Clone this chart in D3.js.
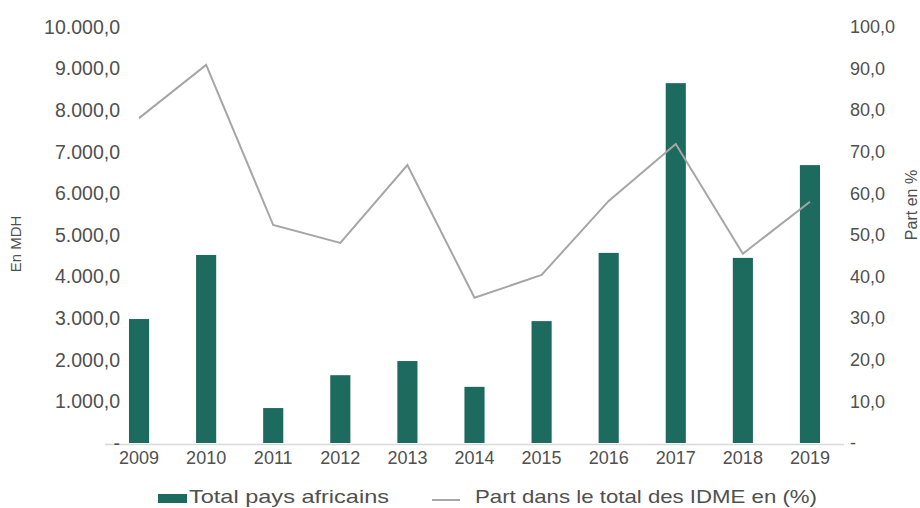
<!DOCTYPE html>
<html><head><meta charset="utf-8">
<script src="https://cdn.jsdelivr.net/npm/d3@7"></script>
<style>body{margin:0;background:#fff}svg{display:block}</style>
</head><body>
<svg id="c" width="920" height="508"></svg>
<script>
const years = ["2009","2010","2011","2012","2013","2014","2015","2016","2017","2018","2019"];
const totalAfrique = [2980, 4520, 840, 1630, 1970, 1350, 2930, 4570, 8650, 4450, 6680];
const partIDME = [78.1, 90.9, 52.4, 48.1, 66.8, 34.9, 40.4, 58.2, 71.9, 45.5, 58.0];
const leftTicks = [0,1000,2000,3000,4000,5000,6000,7000,8000,9000,10000];
const rightTicks = [0,10,20,30,40,50,60,70,80,90,100];
const seriesNames = ["Total pays africains", "Part dans le total des IDME en (%)"];
const axisTitles = ["En MDH", "Part en %"];

const svg = d3.select("#c");
const font = "'Liberation Sans', Arial, sans-serif";
const txt = "#505050";
const barColor = "#1d6a5e";
const lineColor = "#a6a6a6";

const x = d3.scaleBand().domain(years).range([105.5, 843.5]).paddingInner(0.7).paddingOuter(0.35);
const yL = d3.scaleLinear().domain([0, 10000]).range([443, 27]);
const yR = d3.scaleLinear().domain([0, 100]).range([443, 27]);

const loc = d3.formatLocale({decimal: ",", thousands: ".", grouping: [3], currency: ["", ""]});
const fmt = v => v === 0 ? "-" : loc.format(",.1f")(v);

// bars
svg.append("g").selectAll("rect").data(years).join("rect")
  .attr("x", d => x(d)).attr("width", x.bandwidth())
  .attr("y", (d,i) => yL(totalAfrique[i]))
  .attr("height", (d,i) => yL(0) - yL(totalAfrique[i]))
  .attr("fill", barColor);

// baseline
svg.append("line").attr("x1", 105).attr("x2", 844).attr("y1", 444.5).attr("y2", 444.5)
  .attr("stroke", "#d9d9d9").attr("stroke-width", 1.5);

// line
const line = d3.line().x((d,i) => x(years[i]) + x.bandwidth()/2).y(d => yR(d));
svg.append("path").datum(partIDME).attr("d", line)
  .attr("fill", "none").attr("stroke", lineColor).attr("stroke-width", 2);

// left axis
const gL = svg.append("g").attr("transform", "translate(120,0)")
  .call(d3.axisLeft(yL).tickValues(leftTicks).tickFormat(fmt).tickSize(0).tickPadding(0));
gL.select(".domain").remove();
gL.selectAll("text").attr("font-family", font).attr("font-size", 19.5).attr("fill", txt);

// right axis
const gR = svg.append("g").attr("transform", "translate(850,0)")
  .call(d3.axisRight(yR).tickValues(rightTicks).tickFormat(fmt).tickSize(0).tickPadding(0));
gR.select(".domain").remove();
gR.selectAll("text").attr("font-family", font).attr("font-size", 18).attr("fill", txt);

// x axis
const gX = svg.append("g").attr("transform", "translate(0,451)")
  .call(d3.axisBottom(x).tickSize(0).tickPadding(0));
gX.select(".domain").remove();
gX.selectAll("text").attr("font-family", font).attr("font-size", 18).attr("fill", txt);

// axis titles
svg.append("text").attr("transform", "translate(21,244) rotate(-90)")
  .attr("text-anchor", "middle").attr("font-family", font).attr("font-size", 15).attr("fill", txt)
  .text(axisTitles[0]);
svg.append("text").attr("transform", "translate(917,205) rotate(-90)")
  .attr("text-anchor", "middle").attr("font-family", font).attr("font-size", 16).attr("fill", txt)
  .text(axisTitles[1]);

// legend
const lg = svg.append("g");
lg.append("rect").attr("x", 158).attr("y", 494).attr("width", 29).attr("height", 9).attr("fill", barColor);
lg.append("text").attr("x", 189).attr("y", 503).attr("font-family", font).attr("font-size", 19)
  .attr("fill", txt).attr("textLength", 200).attr("lengthAdjust", "spacingAndGlyphs").text(seriesNames[0]);
lg.append("line").attr("x1", 432).attr("x2", 460).attr("y1", 500).attr("y2", 500)
  .attr("stroke", lineColor).attr("stroke-width", 2);
lg.append("text").attr("x", 475).attr("y", 503).attr("font-family", font).attr("font-size", 19)
  .attr("fill", txt).attr("textLength", 342).attr("lengthAdjust", "spacingAndGlyphs").text(seriesNames[1]);
</script>
</body></html>
